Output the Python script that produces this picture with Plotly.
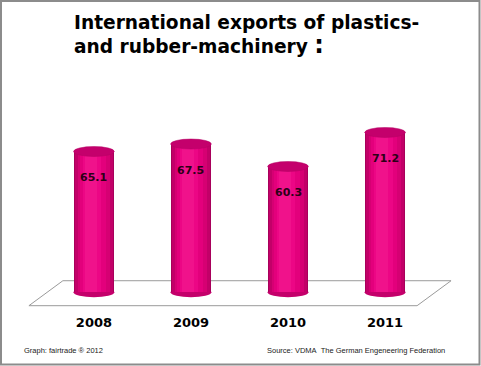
import plotly.graph_objects as go

# ---- data ----
years = ["2008", "2009", "2010", "2011"]
exports = [65.1, 67.5, 60.3, 71.2]
value_labels = ["65.1", "67.5", "60.3", "71.2"]

title_line1 = "International exports of plastics-"
title_line2 = "and rubber-machinery"
footer_left = "Graph: fairtrade ® 2012"
footer_right = "Source: VDMA&nbsp; The German Engeneering Federation"

# ---- layout constants ----
W, H = 481, 366
ML, MR, MT, MB = 26, 28, 105, 55
PW, PH = W - ML - MR, H - MT - MB
BASE = 20.0
YR = [14, 80]
XR = [-0.7, 3.7]
BAR_W = 0.42
ELL_H = 1.6

def px_to_paper_x(px):
    return (px - ML) / PW

def px_to_paper_y(py):
    return 1 - (py - MT) / PH

xs = list(range(len(years)))
heights = [v - BASE for v in exports]

fig = go.Figure()

# cylinder shading: overlapping bars, dark edges -> bright centre
layers = [
    (1.00, "#a8005b", 0.0),
    (0.92, "#c20068", 0.0),
    (0.80, "#d60073", 0.0),
    (0.64, "#e3007c", -0.01),
    (0.46, "#ec0685", -0.02),
    (0.28, "#f0128b", -0.03),
]
for frac, col, off in layers:
    fig.add_trace(go.Bar(
        x=[x + off for x in xs], y=heights, base=BASE,
        width=BAR_W * frac, marker=dict(color=col, line=dict(width=0)),
        hoverinfo="skip", showlegend=False,
    ))

shapes = []
# floor (decoration)
n = len(years)
floor_path = (f"M {-0.67},{15.7} L {-0.32},{23.7} L {n - 1 + 0.68},{23.7} "
              f"L {n - 1 + 0.33},{15.7} Z")
shapes.append(dict(type="path", path=floor_path, xref="x", yref="y",
                   fillcolor="white", line=dict(color="#9a9a9a", width=1),
                   layer="below"))
for x, v in zip(xs, exports):
    # bottom rim
    shapes.append(dict(type="circle", xref="x", yref="y",
                       x0=x - BAR_W / 2, x1=x + BAR_W / 2,
                       y0=BASE - ELL_H, y1=BASE + ELL_H,
                       fillcolor="#c4006b", line=dict(width=0), layer="below"))
    # top cap
    shapes.append(dict(type="circle", xref="x", yref="y",
                       x0=x - BAR_W / 2, x1=x + BAR_W / 2,
                       y0=v - ELL_H, y1=v + ELL_H,
                       fillcolor="#c4006c", line=dict(color="#b30062", width=0.5),
                       layer="above"))

# image border
shapes.append(dict(type="rect", xref="paper", yref="paper",
                   x0=px_to_paper_x(1), x1=px_to_paper_x(W - 1.5),
                   y0=px_to_paper_y(H - 1.5), y1=px_to_paper_y(1),
                   line=dict(color="#8c8c8c", width=2), fillcolor="rgba(0,0,0,0)",
                   layer="above"))

annotations = []
for x, v, t in zip(xs, exports, value_labels):
    annotations.append(dict(x=x, y=v - 8.4, xref="x", yref="y", text=f"<b>{t}</b>",
                            showarrow=False,
                            font=dict(family="DejaVu Sans", size=11, color="#2b0016")))

annotations.append(dict(x=px_to_paper_x(72), y=px_to_paper_y(10), xref="paper", yref="paper",
                        xanchor="left", yanchor="top", align="left", showarrow=False,
                        text=f"<b>{title_line1}<br>{title_line2} <span style='font-size:24px'>:</span></b>",
                        font=dict(family="DejaVu Sans", size=18.6, color="black")))
annotations.append(dict(x=px_to_paper_x(22), y=px_to_paper_y(350), xref="paper", yref="paper",
                        xanchor="left", yanchor="middle", showarrow=False,
                        text=footer_left,
                        font=dict(family="Liberation Sans", size=7.5, color="#222222")))
annotations.append(dict(x=px_to_paper_x(447), y=px_to_paper_y(350), xref="paper", yref="paper",
                        xanchor="right", yanchor="middle", showarrow=False,
                        text=footer_right,
                        font=dict(family="Liberation Sans", size=7.5, color="#222222")))

fig.update_layout(
    width=W, height=H,
    margin=dict(l=ML, r=MR, t=MT, b=MB),
    paper_bgcolor="white", plot_bgcolor="white",
    barmode="overlay", bargap=0,
    showlegend=False,
    shapes=shapes, annotations=annotations,
    xaxis=dict(range=XR, tickvals=xs, ticktext=[f"<b>{y}</b>" for y in years],
               showgrid=False, zeroline=False, showline=False,
               tickfont=dict(family="DejaVu Sans", size=13, color="black"),
               ticklabelstandoff=2),
    yaxis=dict(range=YR, visible=False, showgrid=False, zeroline=False),
)

fig.write_html("out.html", config={"displayModeBar": False},
               post_script="document.body.style.margin='0';")
